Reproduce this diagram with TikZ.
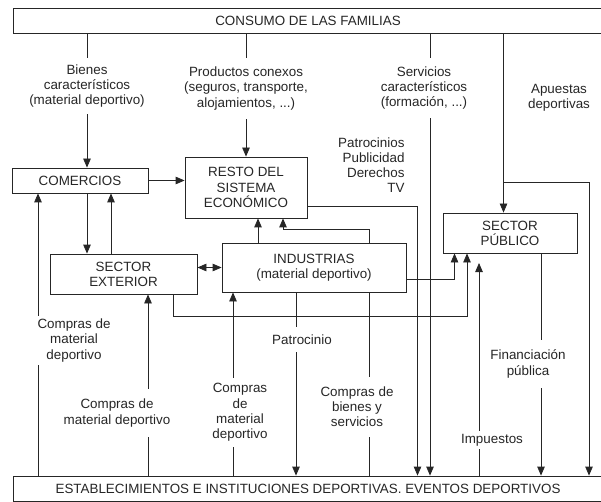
\documentclass[tikz,border=0pt]{standalone}
\usepackage{fontspec}
\setmainfont{Liberation Sans}
\usetikzlibrary{arrows.meta,backgrounds}
\begin{document}
\begin{tikzpicture}[x=1pt,y=-1pt,
  font=\fontsize{13.4}{15.2}\selectfont,
  every node/.style={text=black!85},
  box/.style={draw=black!85, line width=0.8pt, fill=white, align=center, inner sep=0pt},
  lbl/.style={fill=white, align=center, inner xsep=3pt, inner ysep=0pt},
  con/.style={draw=black!85, line width=0.8pt},
  arr/.style={con, -{Triangle[length=9pt,width=7.5pt]}},
  darr/.style={con, {Triangle[length=9pt,width=7.5pt]}-{Triangle[length=9pt,width=7.5pt]}}
]
\useasboundingbox (0,0) rectangle (601,502);

% boxes
\node[box, minimum width=590pt, minimum height=25pt] (consumo) at (308,20.5) {CONSUMO DE LAS FAMILIAS};
\node[box, minimum width=136pt, minimum height=25pt] (comercios) at (80,180.5) {COMERCIOS};
\node[box, minimum width=122pt, minimum height=61pt] (resto) at (246,187.5) {RESTO DEL\\SISTEMA\\ECONÓMICO};
\node[box, minimum width=147pt, minimum height=40pt] (exterior) at (123.5,274) {SECTOR\\EXTERIOR};
\node[box, minimum width=184pt, minimum height=49pt] (industrias) at (314,267.5) {INDUSTRIAS\\(material deportivo)};
\node[box, minimum width=134pt, minimum height=40pt] (publico) at (510,233) {SECTOR\\PÚBLICO};
\node[box, minimum width=590pt, minimum height=25pt] (estab) at (308,488.5) {ESTABLECIMIENTOS E INSTITUCIONES DEPORTIVAS. EVENTOS DEPORTIVOS};

% labels
\node[lbl, minimum height=56pt] (bienes) at (87,86) {Bienes\\característicos\\(material deportivo)};
\node[lbl, minimum height=61pt] (productos) at (246,88.5) {Productos conexos\\(seguros, transporte,\\alojamientos, ...)};
\node[lbl, minimum height=60pt] (servicios) at (424,88) {Servicios\\característicos\\(formación, ...)};
\node[align=center] (apuestas) at (559,98) {Apuestas\\deportivas};
\node[align=right, anchor=east] (patroc) at (408,165) {Patrocinios\\Publicidad\\Derechos\\TV};
\node[lbl, minimum height=49pt] (cmA) at (74,340.5) {Compras de\\material\\deportivo};
\node[lbl, minimum height=48pt] (cmB) at (117,413) {Compras de\\material deportivo};
\node[lbl, minimum height=69pt] (cmC) at (240,412.5) {Compras\\de\\material\\deportivo};
\node[lbl, minimum height=25pt] (patrocinio) at (302,339.5) {Patrocinio};
\node[lbl, minimum height=60pt] (cbs) at (357,407) {Compras de\\bienes y\\servicios};
\node[lbl, minimum height=18pt] (impuestos) at (492,440) {Impuestos};
\node[lbl, minimum height=48pt] (financ) at (528,364) {Financiación\\pública};

% connector positions
\coordinate (xBienes) at (87,0);
\coordinate (xServ) at (430,0);
\coordinate (xApu) at (503.5,0);
\coordinate (apBend) at (503.5,182);
\coordinate (xApuR) at (589,0);
\coordinate (xComUp) at (111,0);
\coordinate (xIndRes) at (258,0);
\coordinate (xCbRes) at (283,0);
\coordinate (cbBend) at (369,229.5);
\coordinate (rpBend) at (417.5,206);
\coordinate (exBend) at (173,316);
\coordinate (xExPub) at (467,0);
\coordinate (inBend) at (454.5,279.5);
\coordinate (impTip) at (479,263);
\coordinate (xFin) at (541,0);
\coordinate (xPat) at (296,0);
\coordinate (xCC) at (233,0);
\coordinate (xCB) at (148,0);
\coordinate (xCA) at (38,0);

\begin{scope}[on background layer]
\draw[arr] (consumo.south -| xBienes) -- (comercios.north -| xBienes);
\draw[arr] (consumo.south -| resto.north) -- (resto.north);
\draw[arr] (consumo.south -| xServ) -- (estab.north -| xServ);
\draw[arr] (consumo.south -| xApu) -- (publico.north -| xApu);
\draw[arr] (apBend) -| (estab.north -| xApuR);
\draw[arr] (comercios.east) -- (comercios.east -| resto.west);
\draw[arr] (comercios.south -| xBienes) -- (exterior.north -| xBienes);
\draw[arr] (exterior.north -| xComUp) -- (comercios.south -| xComUp);
\draw[darr] (industrias.west -| exterior.east) -- (industrias.west);
\draw[arr] (industrias.north -| xIndRes) -- (resto.south -| xIndRes);
\draw[con] (estab.north -| cbBend) -- (industrias.south -| cbBend);
\draw[arr] (industrias.north -| cbBend) -- (cbBend) -| (resto.south -| xCbRes);
\draw[arr] (resto.east |- rpBend) -- (rpBend) -- (estab.north -| rpBend);
\draw[arr] (exterior.south -| exBend) -- (exBend) -| (publico.south -| xExPub);
\draw[arr] (industrias.east |- inBend) -- (inBend) -- (publico.south -| inBend);
\draw[arr] (estab.north -| impTip) -- (impTip);
\draw[arr] (publico.south -| xFin) -- (estab.north -| xFin);
\draw[arr] (industrias.south -| xPat) -- (estab.north -| xPat);
\draw[arr] (estab.north -| xCC) -- (industrias.south -| xCC);
\draw[arr] (estab.north -| xCB) -- (exterior.south -| xCB);
\draw[arr] (estab.north -| xCA) -- (comercios.south -| xCA);
\end{scope}
\end{tikzpicture}
\end{document}
